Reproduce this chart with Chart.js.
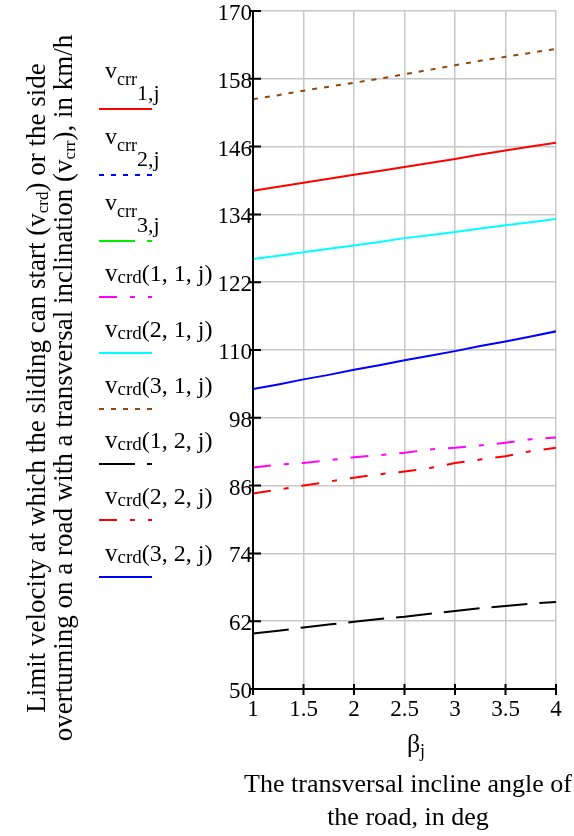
<!DOCTYPE html>
<html>
<head>
<meta charset="utf-8">
<script src="https://cdn.jsdelivr.net/npm/chart.js@4"></script>
<style>
  html, body { margin: 0; background: #fff; }
  #wrap { width: 574px; height: 836px; position: relative; }
</style>
</head>
<body>
<div id="wrap"><canvas id="myPlot"></canvas></div>
<script>
// transversal incline angle, deg
const beta = [1, 1.25, 1.5, 1.75, 2, 2.25, 2.5, 2.75, 3, 3.25, 3.5, 3.75, 4];

// overturning velocities, km/h (2 and 3 stay above the plotted range)
const vcrr1 = [138.2, 138.9, 139.6, 140.3, 141.0, 141.7, 142.4, 143.1, 143.8, 144.6, 145.3, 146.0, 146.7];
const vcrr2 = [];
const vcrr3 = [];

// sliding velocities vcrd(i, k, j), km/h
const vcrd11 = [89.2, 89.7, 90.0, 90.5, 91.0, 91.4, 91.8, 92.4, 92.7, 93.1, 93.6, 94.2, 94.5];
const vcrd21 = [126.1, 126.7, 127.3, 127.9, 128.5, 129.1, 129.8, 130.3, 130.9, 131.5, 132.1, 132.6, 133.2];
const vcrd31 = [154.4, 155.1, 155.9, 156.6, 157.3, 158.0, 158.8, 159.6, 160.4, 161.2, 161.9, 162.6, 163.3];
const vcrd12 = [59.8, 60.3, 60.9, 61.4, 61.9, 62.4, 62.8, 63.3, 63.8, 64.3, 64.7, 65.1, 65.4];
const vcrd22 = [84.6, 85.3, 86.0, 86.7, 87.4, 88.0, 88.5, 89.1, 90.0, 90.6, 91.2, 92.1, 92.7];
const vcrd32 = [103.1, 103.9, 104.8, 105.6, 106.5, 107.3, 108.2, 109.0, 109.8, 110.7, 111.5, 112.4, 113.3];

const xTicks = { min: 1, max: 4, step: 0.5 };
const yTicks = { min: 50, max: 170, step: 12 };

const SERIF = 'Liberation Serif';

function pts(values) {
    return values.map((v, i) => ({ x: beta[i], y: v }));
}

function series(values, color, dash, legend) {
    return {
        data: pts(values),
        borderColor: color,
        borderWidth: 2,
        borderDash: dash,
        pointRadius: 0,
        tension: 0,
        legend: legend
    };
}

// text pieces (font size, baseline shift) laid out left to right
function runWidth(ctx, runs) {
    let w = 0;
    runs.forEach(r => {
        ctx.font = r.size + 'px "' + SERIF + '"';
        w += ctx.measureText(r.t).width;
    });
    return w;
}

function drawRuns(ctx, runs, x, y) {
    runs.forEach(r => {
        ctx.font = r.size + 'px "' + SERIF + '"';
        ctx.fillText(r.t, x, y + (r.dy || 0));
        x += ctx.measureText(r.t).width;
    });
}

function drawRunsCentered(ctx, runs, cx, y) {
    drawRuns(ctx, runs, cx - runWidth(ctx, runs) / 2, y);
}

function crrLabel(n) {
    return [
        { t: 'v', size: 24, dy: -22 },
        { t: 'crr', size: 18, dy: -15 },
        { t: n + ',j', size: 22, dy: 0 }
    ];
}

function crdLabel(args) {
    return [
        { t: 'v', size: 25, dy: 0 },
        { t: 'crd', size: 19, dy: 2 },
        { t: '(' + args + ')', size: 24, dy: 0 }
    ];
}

const decorations = {
    id: 'decorations',
    afterDatasetsDraw(chart) {
        const { ctx, chartArea: a, scales: { x, y } } = chart;
        ctx.save();

        // axes with crossing tick marks
        ctx.strokeStyle = '#000';
        ctx.lineWidth = 2;
        ctx.beginPath();
        ctx.moveTo(a.left, a.top);
        ctx.lineTo(a.left, a.bottom);
        ctx.lineTo(a.right, a.bottom);
        y.ticks.forEach(t => {
            const py = y.getPixelForValue(t.value);
            ctx.moveTo(a.left - 4, py);
            ctx.lineTo(a.left + 8, py);
        });
        x.ticks.forEach(t => {
            const px = x.getPixelForValue(t.value);
            ctx.moveTo(px, a.bottom - 5);
            ctx.lineTo(px, a.bottom + 6);
        });
        ctx.stroke();

        ctx.fillStyle = '#000';
        ctx.textBaseline = 'alphabetic';

        // legend column
        const lineYs = [109, 175, 241, 297, 353, 409, 464, 520, 577];
        chart.data.datasets.forEach((ds, i) => {
            const ly = lineYs[i];
            ctx.strokeStyle = ds.borderColor;
            ctx.lineWidth = 2;
            ctx.setLineDash(ds.borderDash || []);
            ctx.beginPath();
            ctx.moveTo(99, ly);
            ctx.lineTo(152, ly);
            ctx.stroke();
            ctx.setLineDash([]);
            drawRuns(ctx, ds.legend, 105, i < 3 ? ly - 9 : ly - 16);
        });

        // y axis title, two rotated lines
        const yTitle = [
            [
                { t: 'Limit velocity at which the sliding can start (', size: 27 },
                { t: 'v', size: 27 },
                { t: 'crd', size: 17, dy: 3 },
                { t: ') or the side', size: 27 }
            ],
            [
                { t: 'overturning on a road with a transversal inclination (', size: 27 },
                { t: 'v', size: 27 },
                { t: 'crr', size: 17, dy: 3 },
                { t: '), in km/h', size: 27 }
            ]
        ];
        [45, 72].forEach((bx, i) => {
            ctx.save();
            ctx.translate(bx, 388);
            ctx.rotate(-Math.PI / 2);
            drawRunsCentered(ctx, yTitle[i], 0, 0);
            ctx.restore();
        });

        // x axis title
        const cx = 408;
        drawRunsCentered(ctx, [{ t: 'β', size: 26 }, { t: 'j', size: 18, dy: 5 }], cx + 8, 752);
        drawRunsCentered(ctx, [{ t: 'The transversal incline angle of', size: 26 }], cx, 792);
        drawRunsCentered(ctx, [{ t: 'the road, in deg', size: 26 }], cx, 825);

        ctx.restore();
    }
};

Chart.defaults.font.family = SERIF;
Chart.defaults.color = '#000';

new Chart(document.getElementById('myPlot'), {
    type: 'line',
    data: {
        datasets: [
            series(vcrr1, '#ff0000', [], crrLabel(1)),
            series(vcrr2, '#0000ff', [5, 7], crrLabel(2)),
            series(vcrr3, '#00ee00', [36, 12], crrLabel(3)),
            series(vcrd11, '#ff00ff', [18, 13, 5, 13], crdLabel('1, 1, j')),
            series(vcrd21, '#00ffff', [], crdLabel('2, 1, j')),
            series(vcrd31, '#8b4a10', [5, 7], crdLabel('3, 1, j')),
            series(vcrd12, '#000000', [36, 12], crdLabel('1, 2, j')),
            series(vcrd22, '#ff0000', [18, 13, 5, 13], crdLabel('2, 2, j')),
            series(vcrd32, '#0000ff', [], crdLabel('3, 2, j'))
        ]
    },
    options: {
        animation: false,
        maintainAspectRatio: false,
        responsive: true,
        layout: {
            padding: { left: 213, top: 11, right: 18, bottom: 107 }
        },
        plugins: {
            legend: { display: false },
            tooltip: { enabled: false }
        },
        scales: {
            x: {
                type: 'linear',
                min: xTicks.min,
                max: xTicks.max,
                afterFit(scale) { scale.height = 40; },
                border: { display: false },
                grid: { color: '#c8c8c8', lineWidth: 1.5, drawTicks: false },
                ticks: {
                    stepSize: xTicks.step,
                    padding: 12,
                    maxRotation: 0,
                    callback: v => String(v),
                    font: { size: 23, lineHeight: 0.8 }
                }
            },
            y: {
                min: yTicks.min,
                max: yTicks.max,
                afterFit(scale) { scale.width = 40; },
                border: { display: false },
                grid: { color: '#c8c8c8', lineWidth: 1.5, drawTicks: false },
                ticks: {
                    stepSize: yTicks.step,
                    padding: 1,
                    labelOffset: 3,
                    font: { size: 23, lineHeight: 0.8 }
                }
            }
        }
    },
    plugins: [decorations]
});
</script>
</body>
</html>
